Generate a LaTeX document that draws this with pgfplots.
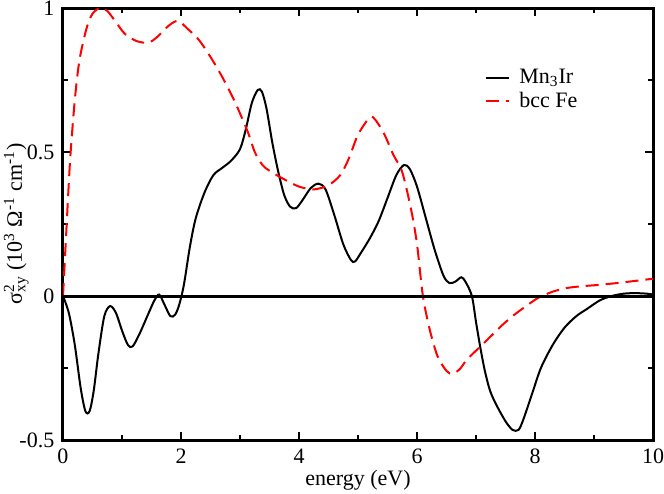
\documentclass[border=0pt]{standalone}
\usepackage{fontspec}
\setmainfont{Liberation Serif}
\usepackage{pgfplots}
\pgfplotsset{compat=1.18}
\begin{document}
\fontsize{11}{13}\selectfont
\begin{tikzpicture}
\begin{axis}[
  scale only axis,
  width=295pt, height=216pt,
  xmin=0, xmax=10, ymin=-0.5, ymax=1,
  xtick={0,2,4,6,8,10}, xticklabels={0,2,4,6,8,10},
  ytick={-0.5,0,0.5,1}, yticklabels={-0.5,0,0.5,1},
  minor x tick num=1, minor y tick num=1,
  tick align=inside,
  major tick length=4pt, minor tick length=2.5pt,
  every tick/.style={black, line width=1pt},
  axis line style={line width=1.5pt},
  tick label style={font=\fontsize{11}{13}\selectfont},
  xticklabel style={yshift=-0.5pt},
  yticklabel style={xshift=-0.5pt},
  xlabel={energy (eV)},
  ylabel={σ\rlap{\textsuperscript{2}}\textsubscript{xy} (10\textsuperscript{3} Ω\textsuperscript{-1} cm\textsuperscript{-1})},
  xlabel style={yshift=4pt},
  ylabel style={at={(axis description cs:-0.0695,0.5)}, anchor=base},
  legend style={draw=none, fill=none, at={(rel axis cs:0.705,0.878)}, anchor=north west,
    font=\fontsize{11}{13}\selectfont, row sep=-1.5pt},
  legend cell align=left,
  legend image code/.code={\draw[#1] (0pt,0pt) -- (11.5pt,0pt);},
  legend style={nodes={inner xsep=4.5pt}},
  clip=true,
]
\addplot[black, line width=1pt, smooth, tension=0.5] coordinates {
(0,0) (0.1,-0.06) (0.2,-0.17) (0.3,-0.32) (0.38,-0.40) (0.45,-0.40) (0.52,-0.33)
(0.6,-0.2) (0.7,-0.07) (0.8,-0.035) (0.9,-0.06) (1.0,-0.12) (1.1,-0.17) (1.18,-0.175)
(1.3,-0.13) (1.45,-0.06) (1.55,-0.015) (1.63,0.005) (1.72,-0.03) (1.82,-0.07) (1.9,-0.065)
(1.97,-0.03) (2.05,0.04) (2.15,0.17) (2.25,0.27) (2.4,0.36) (2.55,0.42) (2.7,0.445)
(2.85,0.47) (3.0,0.51) (3.1,0.58) (3.2,0.67) (3.3,0.715) (3.37,0.71) (3.45,0.65)
(3.55,0.53) (3.65,0.43) (3.75,0.35) (3.85,0.31) (3.95,0.305) (4.05,0.33) (4.2,0.375)
(4.33,0.39) (4.45,0.37) (4.6,0.28) (4.75,0.18) (4.88,0.125) (4.95,0.12) (5.05,0.15)
(5.2,0.2) (5.35,0.26) (5.5,0.34) (5.65,0.42) (5.78,0.455) (5.88,0.44) (6.0,0.38)
(6.15,0.27) (6.3,0.16) (6.45,0.07) (6.55,0.045) (6.65,0.05) (6.75,0.065) (6.82,0.05)
(6.93,0.0) (7.0,-0.09) (7.07,-0.175) (7.15,-0.26) (7.24,-0.33) (7.35,-0.38) (7.5,-0.435)
(7.62,-0.465) (7.72,-0.465) (7.8,-0.43) (7.95,-0.34) (8.1,-0.25) (8.3,-0.17) (8.5,-0.11)
(8.7,-0.07) (8.88,-0.045) (9.1,-0.015) (9.3,0.0) (9.5,0.008) (9.7,0.01) (9.9,0.008) (10,0.005)
};
\addlegendentry{Mn\textsubscript{3}Ir}
\addplot[red, line width=1pt, dash pattern=on 6.5pt off 3.5pt, smooth, tension=0.5] coordinates {
(0,0) (0.05,0.2) (0.12,0.47) (0.2,0.68) (0.28,0.82) (0.4,0.93) (0.5,0.98) (0.63,1.0)
(0.75,0.99) (0.9,0.95) (1.05,0.91) (1.25,0.885) (1.45,0.88) (1.6,0.9) (1.8,0.94)
(1.95,0.955) (2.1,0.93) (2.3,0.89) (2.5,0.83) (2.7,0.76) (2.9,0.68) (3.05,0.61)
(3.15,0.56) (3.25,0.5) (3.38,0.455) (3.5,0.435) (3.75,0.405) (4.0,0.38) (4.25,0.37)
(4.5,0.385) (4.7,0.42) (4.85,0.48) (5.0,0.56) (5.2,0.62) (5.3,0.61) (5.45,0.56)
(5.6,0.49) (5.75,0.43) (5.9,0.3) (6.0,0.18) (6.1,0.0) (6.22,-0.12) (6.35,-0.21)
(6.5,-0.26) (6.6,-0.27) (6.72,-0.255) (6.85,-0.22) (7.05,-0.18) (7.25,-0.14) (7.45,-0.1)
(7.65,-0.065) (7.85,-0.035) (8.05,-0.007) (8.3,0.015) (8.55,0.028) (8.8,0.034)
(9.05,0.038) (9.3,0.043) (9.6,0.05) (10,0.06)
};
\addlegendentry{bcc Fe}
\draw[black, line width=1.5pt] (axis cs:0,0) -- (axis cs:10,0);
\coordinate (sw) at (rel axis cs:0,0);
\coordinate (ne) at (rel axis cs:1,1);
\end{axis}
\pgfresetboundingbox
\path[use as bounding box] ([shift={(-31.5pt,-26.5pt)}]sw) rectangle ([shift={(5.5pt,4pt)}]ne);
\end{tikzpicture}
\end{document}
